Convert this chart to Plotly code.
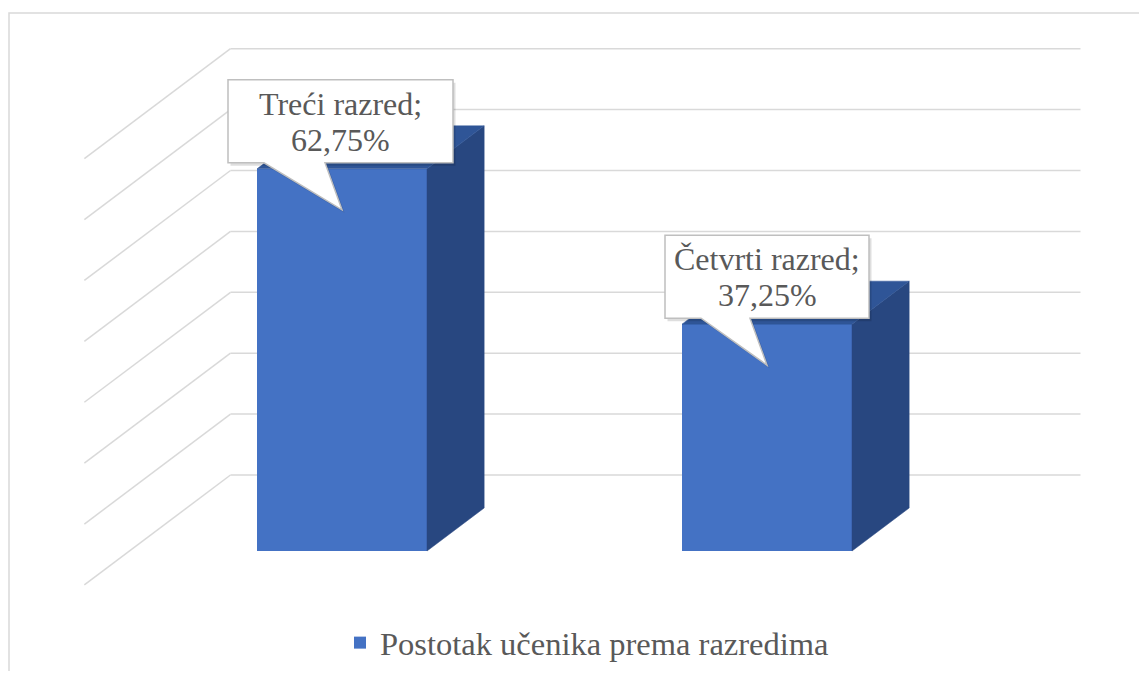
import plotly.graph_objects as go

# ---------------- data ----------------
categories = ["Treći razred", "Četvrti razred"]
values = [62.75, 37.25]
series_name = "Postotak učenika prema razredima"
grid_values = [0, 10, 20, 30, 40, 50, 60, 70]

# ---------------- style / geometry ----------------
W, H = 1131, 663          # page body has an 8px margin in the browser (avoid scrollbars)
PX_PER_CAT = 425.0        # pixels per category step (front plane)
PX_PER_PCT = 6.09         # pixels per percent
X0_PX = 334.0             # pixel x of category 0 on the front plane
Y0_PX = 543.0             # pixel y of 0 % on the front plane
DEPTH_DX_PX = 101.0       # oblique offset for one depth unit
DEPTH_DY_PX = 76.0
KX = DEPTH_DX_PX / PX_PER_CAT
KY = DEPTH_DY_PX / PX_PER_PCT
BAR_W = 0.4
BAR_DEPTH = 0.566
WALL_FRONT = -0.447
X_MIN, X_MAX = -0.5, 1.5

FRONT = "#4472C4"
SIDE = "#284780"
TOP = "#2F5597"
GRID = "#D9D9D9"
TXT = "#595959"
FONT = "Liberation Serif, Times New Roman, serif"
FSIZE = 32
LEGEND_FSIZE = 32.5
LEGEND_CX_PX = 579        # legend centre (px)
CALLOUT_W = [225, 204]    # callout box widths (px)
CALLOUT_DX = [-1.5, 0]    # callout box centre offset (px)

x_range = [-X0_PX / PX_PER_CAT, (W - X0_PX) / PX_PER_CAT]
y_range = [(Y0_PX - H) / PX_PER_PCT, Y0_PX / PX_PER_PCT]


def proj(x, y, d):
    return x + KX * d, y + KY * d


def px_off(x, y, dxp, dyp):
    """offset an axis point by pixels (dyp positive = down)"""
    return x + dxp / PX_PER_CAT, y - dyp / PX_PER_PCT


fig = go.Figure()

# walls (gridlines) as shapes below traces
shapes = []
for g in grid_values:
    xa, ya = proj(X_MIN, g, 1.0)
    xb, yb = proj(X_MAX, g, 1.0)
    xc, yc = proj(X_MIN, g, WALL_FRONT)
    shapes.append(dict(type="line", xref="x", yref="y", x0=xa, y0=ya, x1=xb, y1=yb,
                       line=dict(color=GRID, width=1.5), layer="below"))
    shapes.append(dict(type="line", xref="x", yref="y", x0=xa, y0=ya, x1=xc, y1=yc,
                       line=dict(color=GRID, width=1.5), layer="below"))

# outer chart border (right and bottom edges lie outside the window)
shapes.append(dict(type="rect", xref="paper", yref="paper",
                   x0=1.0 / W, x1=(W + 30) / W, y0=-30 / H, y1=1 - 5.0 / H,
                   line=dict(color=GRID, width=1.5), layer="below"))

# front faces
xs = list(range(len(categories)))
fig.add_trace(go.Bar(x=xs, y=values, width=BAR_W, marker=dict(color=FRONT, line=dict(width=0)),
                     name=series_name, showlegend=True, hoverinfo="skip"))

# side and top faces
for i, v in zip(xs, values):
    r = i + BAR_W / 2
    l = i - BAR_W / 2
    side = [proj(r, 0, 0), proj(r, 0, BAR_DEPTH), proj(r, v, BAR_DEPTH), proj(r, v, 0), proj(r, 0, 0)]
    top = [proj(l, v, 0), proj(r, v, 0), proj(r, v, BAR_DEPTH), proj(l, v, BAR_DEPTH), proj(l, v, 0)]
    for poly, col in ((side, SIDE), (top, TOP)):
        fig.add_trace(go.Scatter(x=[p[0] for p in poly], y=[p[1] for p in poly], mode="lines",
                                 fill="toself", fillcolor=col, line=dict(width=0.5, color=col),
                                 showlegend=False, hoverinfo="skip"))

# callouts
annotations = []
for i, (cat, v) in enumerate(zip(categories, values)):
    w = CALLOUT_W[i]
    c = CALLOUT_DX[i]
    top_px, bot_px = -89, -6     # box vertical extent relative to bar top
    pts = [(c - w / 2, top_px), (c + w / 2, top_px), (c + w / 2, bot_px), (-17, bot_px),
           (0, 41), (c - w / 2 + 36, bot_px), (c - w / 2, bot_px)]

    def build(dx, dy):
        seq = [px_off(i, v, p[0] + dx, p[1] + dy) for p in pts]
        return "M " + " L ".join(f"{a:.5f},{b:.5f}" for a, b in seq) + " Z"

    shapes.append(dict(type="path", xref="x", yref="y", path=build(2.5, 3),
                       fillcolor="rgba(0,0,0,0.13)", line=dict(width=0), layer="above"))
    shapes.append(dict(type="path", xref="x", yref="y", path=build(0, 0),
                       fillcolor="white", line=dict(color="#BFBFBF", width=1.5), layer="above"))
    lines = [f"{cat};", f"{v:.2f}".replace(".", ",") + "%"]
    for ln, off in zip(lines, (-65, -29)):
        cx, cy = px_off(i, v, c, off)
        annotations.append(dict(x=cx, y=cy, xref="x", yref="y", text=ln, showarrow=False,
                                xanchor="center", yanchor="middle",
                                font=dict(family=FONT, size=FSIZE, color=TXT)))

fig.update_layout(
    width=W, height=H, autosize=False,
    margin=dict(l=0, r=0, t=0, b=0),
    paper_bgcolor="white", plot_bgcolor="white",
    xaxis=dict(range=x_range, visible=False, fixedrange=True),
    yaxis=dict(range=y_range, visible=False, fixedrange=True),
    shapes=shapes, annotations=annotations,
    showlegend=True,
    legend=dict(orientation="h", x=LEGEND_CX_PX / W, xanchor="center", y=1 - 635 / H, yanchor="middle",
                font=dict(family=FONT, size=LEGEND_FSIZE, color=TXT), bgcolor="rgba(0,0,0,0)"),
    bargap=0,
)

fig.write_html("out.html")
